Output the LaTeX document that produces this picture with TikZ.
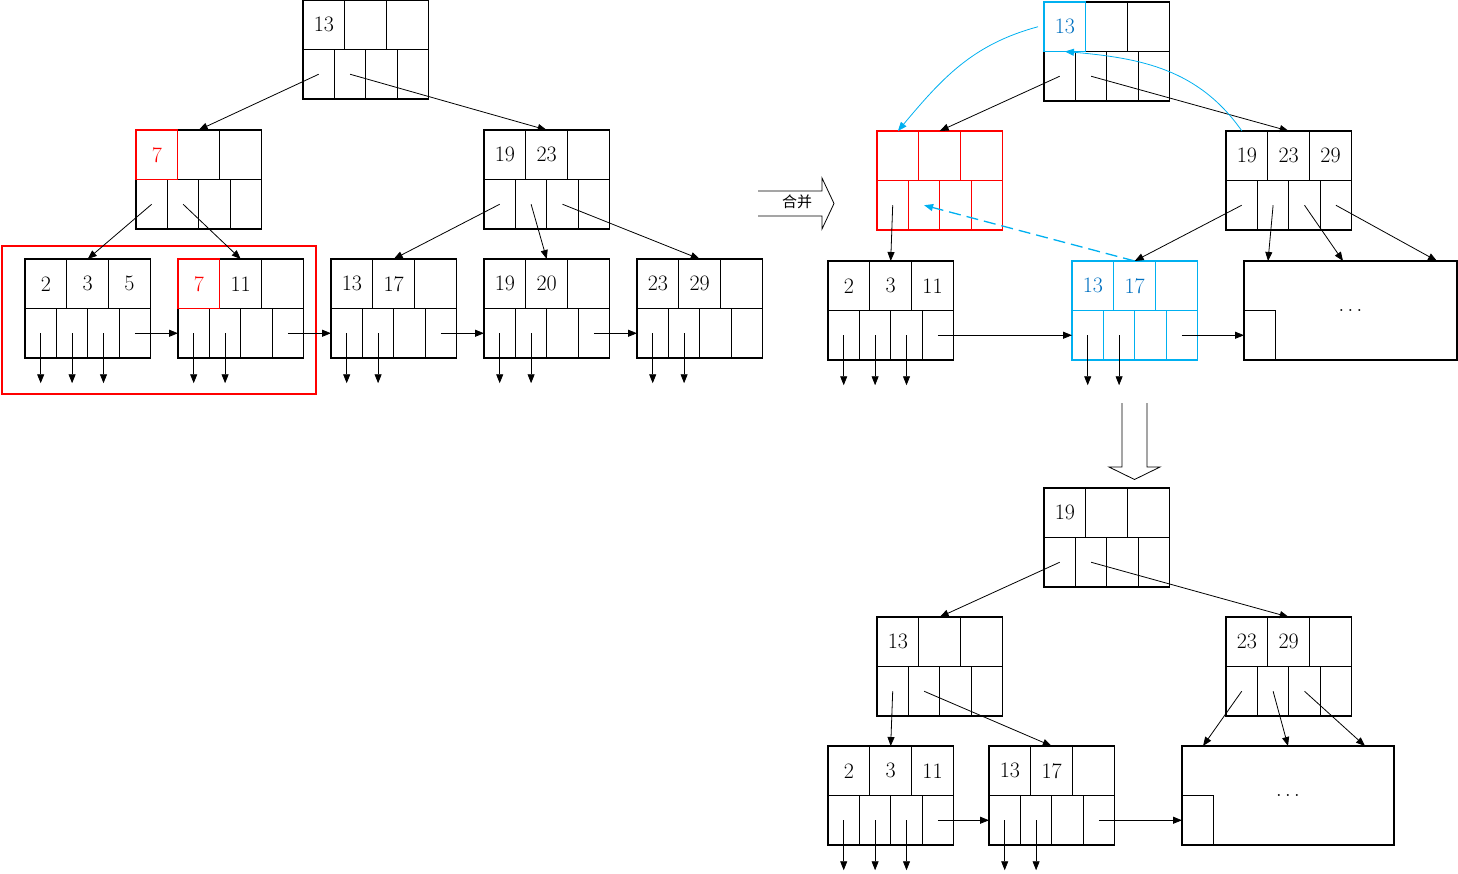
\documentclass[tikz,border=0pt]{standalone}
\usepackage{fontspec}
\newfontfamily\cjk{Noto Sans CJK SC}
\usetikzlibrary{arrows.meta}
\definecolor{sky}{RGB}{0,176,240}
\definecolor{skytext}{RGB}{0,112,192}
\definecolor{hotred}{RGB}{255,0,0}
\tikzstyle{bcell}=[draw, line width=1.1pt, inner sep=0pt, outer sep=0pt, minimum height=49.5pt, font=\fontsize{22}{24}\selectfont]
\tikzstyle{keycell}=[bcell, minimum width=41.8pt]
\tikzstyle{ptrcell}=[bcell, minimum width=31.4pt]
\tikzstyle{bigbox}=[bcell, minimum height=99pt]
\tikzstyle{hot}=[draw=hotred, text=hotred]
\tikzstyle{cold}=[draw=sky, text=skytext]
\tikzstyle{mergebox}=[draw=hotred, line width=1.6pt, minimum width=314pt, minimum height=148pt]
% #1 style of all cells, #2 name, #3 top left, #4 style of first key, #5-#7 keys
\newcommand{\bpnode}[7][]{%
  \coordinate (#2) at (#3);
  \node[keycell, anchor=north west, xshift=41.8pt, #1] (#2-k2) at (#2) {#6};
  \node[keycell, right of=#2-k2, node distance=41.8pt, #1] (#2-k3) {#7};
  \node[ptrcell, anchor=north west, yshift=-49.5pt, #1] (#2-p1) at (#2) {};
  \node[ptrcell, right of=#2-p1, node distance=31.4pt, #1] (#2-p2) {};
  \node[ptrcell, right of=#2-p2, node distance=31.4pt, #1] (#2-p3) {};
  \node[ptrcell, right of=#2-p3, node distance=31.4pt, #1] (#2-p4) {};
  \node[keycell, left of=#2-k2, node distance=41.8pt, #1, #4] (#2-k1) {#5};
}

\begin{document}
\begin{tikzpicture}[x=1pt, y=-1pt, line width=0.8pt, >={Triangle[length=9pt,width=7pt]}]
  \useasboundingbox (0,0) rectangle (1458,874);

  \bpnode{R}{303,0}{}{13}{}{}
  \bpnode{N7}{136,130}{hot}{7}{}{}
  \bpnode{N19}{484,130}{}{19}{23}{}
  \bpnode{L2}{25,259}{}{2}{3}{5}
  \bpnode{L7}{178,259}{hot}{7}{11}{}
  \bpnode{L13}{331,259}{}{13}{17}{}
  \bpnode{L19}{484,259}{}{19}{20}{}
  \bpnode{L23}{637,259}{}{23}{29}{}
  \node[mergebox, anchor=north west] (G) at (1,245) {};

  \path[->] (R-p1.center) edge (N7-k2.north)
            (R-p2.center) edge (N19-k2.north)
            (N7-p1.center) edge (L2-k2.north)
            (N7-p2.center) edge (L7-k2.north)
            (N19-p1.center) edge (L13-k2.north)
            (N19-p2.center) edge (L19-k2.north)
            (N19-p3.center) edge (L23-k2.north)
            (L2-p4.center) edge (L7-p1.west)
            (L7-p4.center) edge (L13-p1.west)
            (L13-p4.center) edge (L19-p1.west)
            (L19-p4.center) edge (L23-p1.west);

  \draw (758,191) -- (822,191) -- (822,178) -- (834,203.5) -- (822,229) -- (822,216) -- (758,216);
  \node[font=\cjk\fontsize{15}{15}\selectfont] (hb) at (797,202) {合并};

  \bpnode{R2}{1044,2}{cold}{13}{}{}
  \bpnode[hot]{M2}{877,131}{}{}{}{}
  \bpnode{N2}{1226,131}{}{19}{23}{29}
  \bpnode{K2}{828,261}{}{2}{3}{11}
  \bpnode[cold]{J2}{1072,261}{}{13}{17}{}
  \node[bigbox, minimum width=213pt, anchor=north west] (X2) at (1244,261) {$\ldots$};
  \node[ptrcell, anchor=south west] (X2-p) at (X2.south west) {};

  \path[->] (R2-p1.center) edge (M2-k2.north)
            (R2-p2.center) edge (N2-k2.north)
            (M2-p1.center) edge (K2-k2.north)
            (N2-p1.center) edge (J2-k2.north)
            (N2-p2.center) edge ([xshift=24pt]X2.north west)
            (N2-p3.center) edge ([xshift=99pt]X2.north west)
            (N2-p4.center) edge ([xshift=-20pt]X2.north east)
            (K2-p4.center) edge (J2-p1.west)
            (J2-p4.center) edge (X2-p.west);
  \draw[->, sky] ([xshift=-6pt]R2-k1.west) to[out=195, in=50] (M2-k1.north);
  \draw[->, sky] ([xshift=-5pt]N2-k1.north) to[out=125, in=-5] (R2-k1.south);
  \draw[->, sky, line width=1.3pt, dash pattern=on 12pt off 6pt] (J2-k2.north) -- (M2-p2.center);

  \draw (1122,403) -- (1122,467) -- (1109,467) -- (1134.5,479.5) -- (1160,467) -- (1147,467) -- (1147,403);

  \bpnode{R3}{1044,488}{}{19}{}{}
  \bpnode{M3}{877,617}{}{13}{}{}
  \bpnode{N3}{1226,617}{}{23}{29}{}
  \bpnode{K3}{828,746}{}{2}{3}{11}
  \bpnode{J3}{989,746}{}{13}{17}{}
  \node[bigbox, minimum width=212pt, anchor=north west] (X3) at (1182,746) {$\ldots$};
  \node[ptrcell, anchor=south west] (X3-p) at (X3.south west) {};

  \path[->] (R3-p1.center) edge (M3-k2.north)
            (R3-p2.center) edge (N3-k2.north)
            (M3-p1.center) edge (K3-k2.north)
            (M3-p2.center) edge (J3-k2.north)
            (N3-p1.center) edge ([xshift=21pt]X3.north west)
            (N3-p2.center) edge (X3.north)
            (N3-p3.center) edge ([xshift=-29pt]X3.north east)
            (K3-p4.center) edge (J3-p1.west)
            (J3-p4.center) edge (X3-p.west);

  \foreach \n/\k in {L2/3, L7/2, L13/2, L19/2, L23/2, K2/3, J2/2, K3/3, J3/2}
    \foreach \i in {1,...,\k} {
      \coordinate[below of=\n-p\i, node distance=50pt] (\n-d\i);
      \path[->] (\n-p\i.center) edge (\n-d\i);
    }
\end{tikzpicture}
\end{document}
